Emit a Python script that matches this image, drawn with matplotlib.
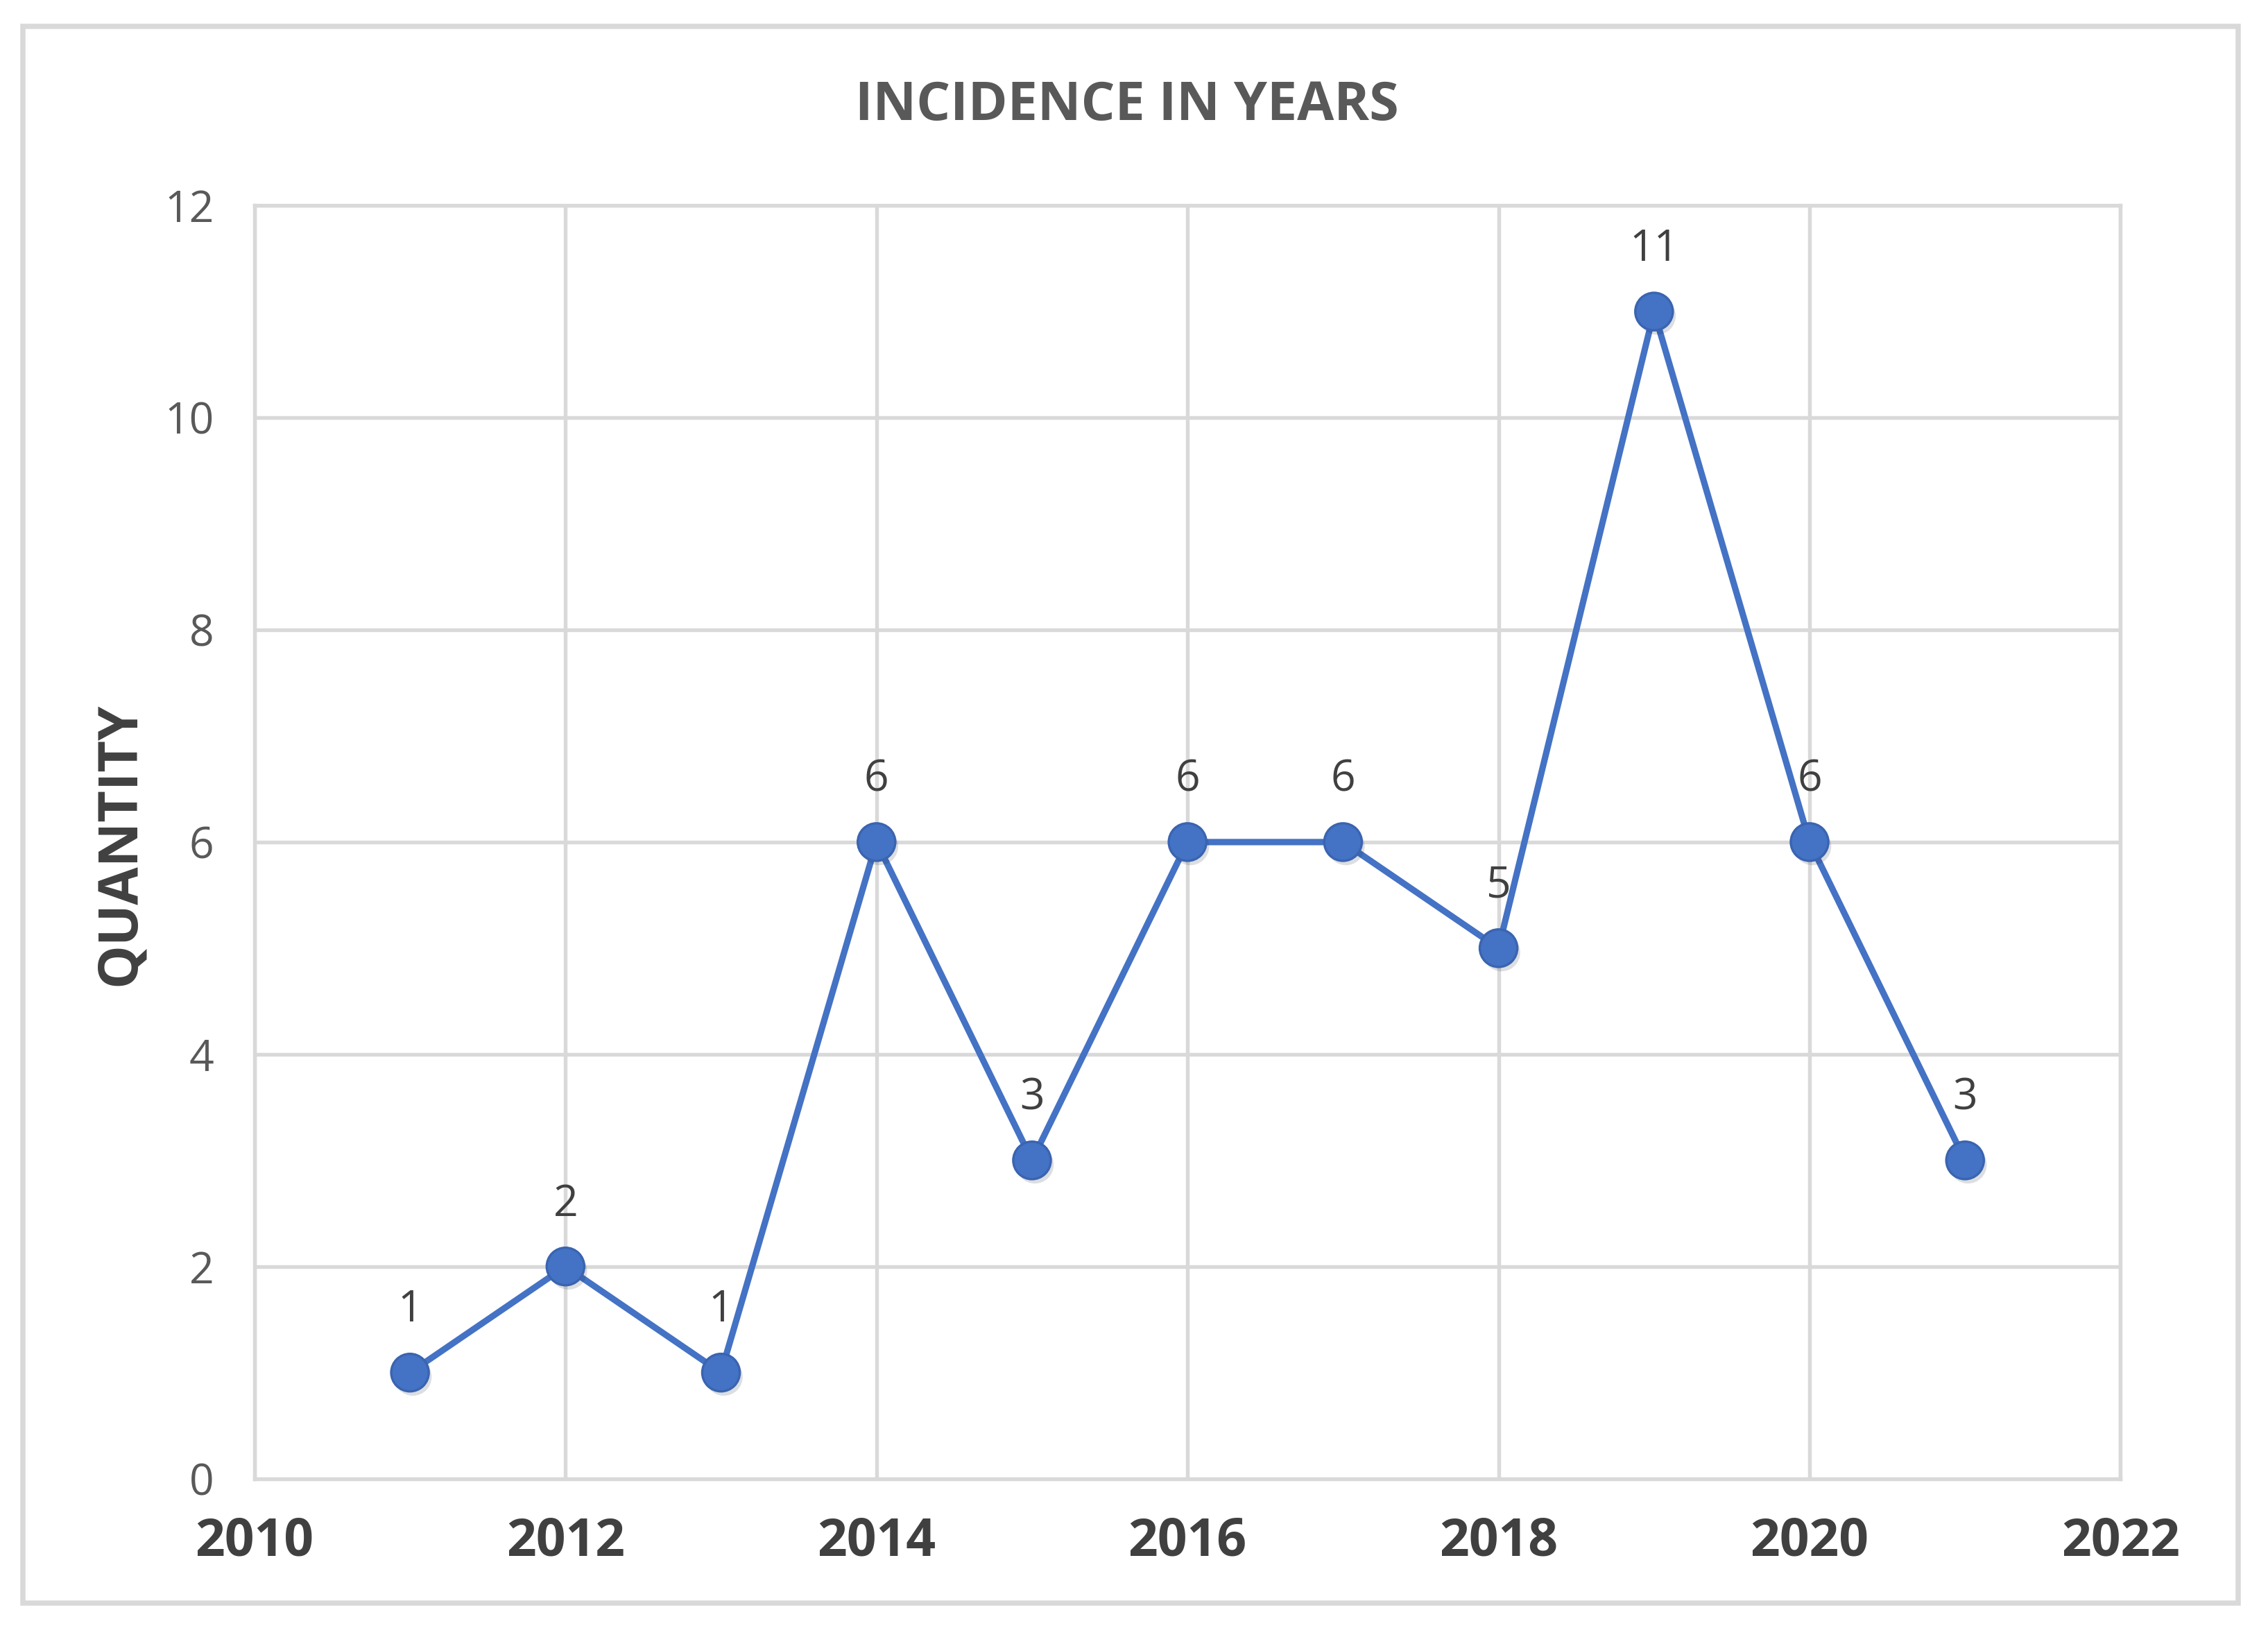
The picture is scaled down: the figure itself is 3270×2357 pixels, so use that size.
import matplotlib.pyplot as plt
from matplotlib.patches import Rectangle
import matplotlib.patheffects as pe

years = [2011, 2012, 2013, 2014, 2015, 2016, 2017, 2018, 2019, 2020, 2021]
counts = [1, 2, 1, 6, 3, 6, 6, 5, 11, 6, 3]
x_ticks = [2010, 2012, 2014, 2016, 2018, 2020, 2022]
y_ticks = [0, 2, 4, 6, 8, 10, 12]

blue = '#4472C4'
grid = '#D9D9D9'

plt.rcParams['font.family'] = ['Open Sans', 'DejaVu Sans']

fig = plt.figure(figsize=(10.9, 7.857), dpi=300)
ax = fig.add_axes([0.1122, 0.0956, 0.935 - 0.1122, 0.8743 - 0.0956])

# line first, then the dots with a soft shadow like in Excel
ax.plot(years, counts, color=blue, lw=2.2, zorder=3)
ax.plot(years, counts, ls='none', marker='o', markersize=13,
        markerfacecolor=blue, markeredgecolor='#3A64B0', markeredgewidth=0.8, zorder=4,
        path_effects=[pe.SimplePatchShadow(offset=(1, -1.5), alpha=0.15), pe.Normal()])
for x, y in zip(years, counts):
    ax.annotate(str(y), (x, y), xytext=(0, 14), textcoords='offset points',
                ha='center', va='bottom', fontsize=15, color='#404040')

ax.set_xlim(2010, 2022)
ax.set_ylim(0, 12)
ax.set_xticks(x_ticks)
ax.set_yticks(y_ticks)
ax.grid(True, color=grid, lw=1.3, zorder=0)
for s in ax.spines.values():
    s.set_color(grid)
    s.set_linewidth(1.3)
ax.tick_params(length=0)
ax.tick_params(axis='x', pad=13, labelsize=18, colors='#404040')
ax.tick_params(axis='y', pad=14, labelsize=15, colors='#595959')
for lb in ax.get_xticklabels():
    lb.set_fontweight('bold')

fig.text(0.497, 0.935, 'INCIDENCE IN YEARS', ha='center', va='center',
         fontsize=18.5, fontweight='bold', color='#595959')
fig.text(0.053, 0.484, 'QUANTITY', ha='center', va='center', rotation=90,
         fontsize=19, fontweight='bold', color='#404040')

fig.patches.append(Rectangle((0.0102, 0.0195), 0.987 - 0.0102, 0.984 - 0.0195,
                             transform=fig.transFigure, fill=False,
                             edgecolor=grid, lw=1.8))

fig.savefig('out.png', dpi=300, facecolor='white')
